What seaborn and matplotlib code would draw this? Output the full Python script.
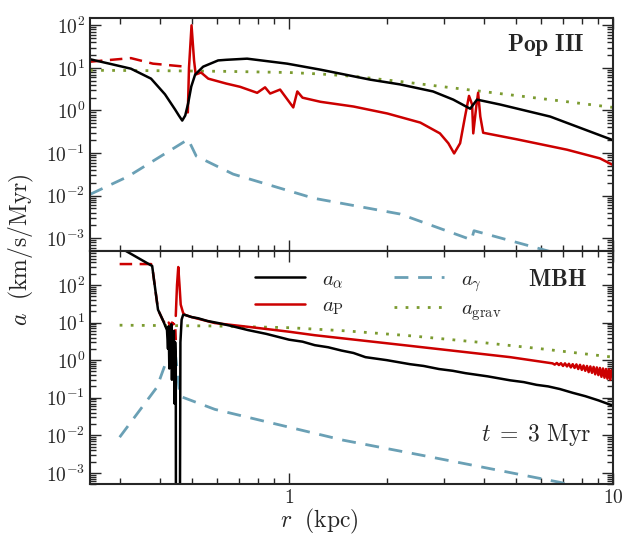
import numpy as np
import pandas as pd
import seaborn as sns
import matplotlib
matplotlib.use("Agg")
import matplotlib.pyplot as plt
from matplotlib.ticker import FixedLocator, FuncFormatter, NullFormatter, LogLocator

# ---- Pop III panel ----
pop_alpha_r = [0.243, 0.28, 0.325, 0.375, 0.414, 0.445, 0.457, 0.468, 0.478, 0.488, 0.499, 0.513, 0.543,
               0.604, 0.639, 0.742, 0.986, 1.25, 1.78, 2.2, 2.78, 3.21, 3.62, 3.80, 4.48, 6.39, 10.0]
pop_alpha_a = [16, 12.5, 9.6, 5.6, 2.4, 1.05, 0.76, 0.58, 0.76, 1.46, 3.65, 7.0, 10.7,
               15, 15.5, 16.5, 12.6, 9.1, 5.3, 4.1, 2.8, 1.8, 1.1, 1.8, 1.38, 0.72, 0.2]

pop_pneg_r = [0.243, 0.325, 0.38, 0.478, 0.486]
pop_pneg_a = [14, 17, 12.6, 10.7, 10]

pop_p_r = [0.487, 0.491, 0.500, 0.509, 0.515, 0.535, 0.563, 0.639, 0.706, 0.797, 0.843, 0.874, 0.938,
           1.03, 1.06, 1.10, 1.25, 1.58, 2.01, 2.54, 2.92, 3.10, 3.23, 3.37, 3.49, 3.59, 3.67, 3.70,
           3.78, 3.83, 3.89, 3.97, 5.05, 7.20, 9.1, 10.0]
pop_p_a = [0.9, 10, 100, 15, 7.0, 7.8, 5.6, 4.3, 3.6, 2.6, 3.5, 2.5, 3.1,
           1.18, 2.8, 2.0, 1.6, 1.24, 0.85, 0.52, 0.29, 0.17, 0.098, 0.17, 0.72, 2.2, 1.38, 0.29,
           1.24, 2.6, 0.72, 0.3, 0.21, 0.12, 0.075, 0.052]

pop_gam_r = [0.243, 0.318, 0.488, 0.517, 0.672, 1.19, 2.2, 3.54, 3.65, 3.72, 6.3, 10.0]
pop_gam_a = [0.0107, 0.028, 0.21, 0.085, 0.032, 0.0087, 0.0037, 0.001, 0.0009, 0.0015, 5e-4, 2e-4]

pop_grav_r = [0.243, 0.4, 0.64, 1.0, 1.25, 1.6, 2.2, 3.0, 3.8, 5.0, 7.0, 10.0]
pop_grav_a = [8.8, 8.6, 8.3, 7.8, 7.2, 6.3, 4.8, 3.6, 2.9, 2.25, 1.65, 1.18]

# ---- MBH panel ----
mbh_alpha_r = [0.30, 0.378, 0.383, 0.389, 0.394, 0.409, 0.420, 0.423, 0.425, 0.427, 0.429, 0.431, 0.433,
               0.435, 0.437, 0.439, 0.441, 0.443, 0.445, 0.447, 0.448, 0.459, 0.462, 0.466, 0.471,
               0.477, 0.50, 0.524, 0.56, 0.604, 0.66, 0.747, 0.85, 1.0, 1.1, 1.2, 1.32, 1.45, 1.58,
               1.72, 2.0, 2.36, 2.6, 2.9, 3.2, 3.5, 4.1, 4.81, 5.3, 5.8, 6.3, 6.85, 7.5, 8.2, 9.0, 9.8, 10.0]
mbh_alpha_a = [1000, 320, 135, 50, 22, 11, 6.3, 2, 8, 0.6, 5, 1.5, 9,
               0.3, 4, 0.9, 6, 0.07, 3, 1.0, 1e-8, 1e-8, 3, 12, 16,
               16, 14, 13, 11, 9.7, 8.2, 6.3, 5.0, 3.5, 3.1, 2.5, 2.2, 1.8, 1.55,
               1.2, 1.0, 0.78, 0.7, 0.58, 0.52, 0.45, 0.37, 0.29, 0.26, 0.22, 0.2, 0.17, 0.135, 0.11, 0.085, 0.065, 0.062]

mbh_pneg_r = [0.30, 0.375, 0.378, 0.383, 0.389, 0.394, 0.409, 0.420, 0.425, 0.430, 0.435, 0.440, 0.445, 0.447]
mbh_pneg_a = [360, 360, 320, 135, 50, 22, 11, 8, 10, 8, 10, 9, 10, 3.4]

mbh_p_r = [0.447, 0.451, 0.455, 0.459, 0.463, 0.471, 0.477, 0.50, 0.59, 0.747, 1.0, 1.2, 2.36, 4.81, 6.5,
           6.6, 6.7, 6.8, 6.9, 7.0, 7.1, 7.2, 7.3, 7.4, 7.5, 7.6, 7.7, 7.8, 7.9, 8.0, 8.1, 8.2, 8.3,
           8.4, 8.5, 8.6, 8.7, 8.8, 8.9, 9.0, 9.1, 9.2, 9.3, 9.4, 9.5, 9.6, 9.7, 9.8, 9.9, 10.0]
mbh_p_a = [15, 100, 300, 100, 30, 18, 16, 14, 9.7, 7.7, 5.7, 4.6, 2.4, 1.2, 0.82,
           0.76, 0.84, 0.74, 0.83, 0.70, 0.82, 0.68, 0.80, 0.64, 0.78, 0.62, 0.77, 0.58, 0.75, 0.55,
           0.72, 0.52, 0.70, 0.48, 0.68, 0.46, 0.66, 0.42, 0.64, 0.40, 0.62, 0.36, 0.60, 0.34, 0.58,
           0.32, 0.57, 0.30, 0.55, 0.42]

mbh_gam_r = [0.30, 0.391, 0.414, 0.447, 0.452, 0.46, 0.59, 1.47, 2.59, 6.85, 10.0]
mbh_gam_a = [0.0089, 0.19, 0.74, 1.2, 0.5, 0.11, 0.049, 0.0074, 0.0029, 5.6e-4, 2.5e-4]

mbh_grav_r = [0.30, 0.59, 1.0, 1.5, 2.4, 4.0, 6.0, 10.0]
mbh_grav_a = [8.5, 8.1, 7.3, 6.0, 4.4, 2.9, 2.0, 1.2]

labels = [r"$a_\alpha$", r"$a_\mathrm{P}$", r"$a_\gamma$", r"$a_\mathrm{grav}$"]
y_ticks = [1e-3, 1e-2, 1e-1, 1e0, 1e1, 1e2]

sns.set_style("ticks")
plt.rcParams.update({
    "mathtext.fontset": "cm",
    "font.family": ["DejaVu Serif"],
    "axes.linewidth": 1.5,
    "xtick.direction": "in", "ytick.direction": "in",
    "xtick.top": True, "ytick.right": True,
    "xtick.major.size": 8, "ytick.major.size": 8,
    "xtick.minor.size": 4, "ytick.minor.size": 4,
    "xtick.major.width": 1, "ytick.major.width": 1,
    "xtick.minor.width": 1, "ytick.minor.width": 1,
    "xtick.minor.visible": True, "ytick.minor.visible": True,
})

RED = "#cc0000"
BLUE = "#6aa0b5"
GREEN = "#7b9b30"


def line(ax, r, a, **kw):
    df = pd.DataFrame({"r": r, "a": a})
    sns.lineplot(data=df, x="r", y="a", estimator=None, sort=False, ax=ax, **kw)


fig, (ax1, ax2) = plt.subplots(2, 1, figsize=(6.27, 5.41), dpi=100, sharex=True)
fig.subplots_adjust(left=0.1435, right=0.978, top=0.967, bottom=0.105, hspace=0)

for ax, d in [(ax1, (pop_alpha_r, pop_alpha_a, pop_pneg_r, pop_pneg_a, pop_p_r, pop_p_a,
                     pop_gam_r, pop_gam_a, pop_grav_r, pop_grav_a)),
              (ax2, (mbh_alpha_r, mbh_alpha_a, mbh_pneg_r, mbh_pneg_a, mbh_p_r, mbh_p_a,
                     mbh_gam_r, mbh_gam_a, mbh_grav_r, mbh_grav_a))]:
    line(ax, d[6], d[7], color=BLUE, lw=2, linestyle=(0, (5, 3.5)), label=labels[2])
    line(ax, d[8], d[9], color=GREEN, lw=2, linestyle=(0, (1, 3)), label=labels[3])
    line(ax, d[2], d[3], color=RED, lw=1.8, linestyle=(0, (5, 3)))
    line(ax, d[4], d[5], color=RED, lw=1.8, label=labels[1])
    line(ax, d[0], d[1], color="black", lw=1.8, label=labels[0])
    ax.set_xscale("log")
    ax.set_yscale("log")
    ax.set_xlabel("")
    ax.set_ylabel("")
    ax.yaxis.set_major_locator(FixedLocator(y_ticks))
    ax.yaxis.set_minor_locator(LogLocator(base=10, subs=np.arange(2, 10), numticks=20))
    ax.yaxis.set_major_formatter(FuncFormatter(lambda v, p: r"$10^{%d}$" % int(round(np.log10(v)))))
    ax.yaxis.set_minor_formatter(NullFormatter())
    ax.tick_params(labelsize=14)
    if ax.get_legend() is not None:
        ax.get_legend().remove()

ax1.set_ylim(5e-4, 150)
ax2.set_ylim(5e-4, 800)
ax2.set_xlim(0.243, 10)
ax2.xaxis.set_major_locator(FixedLocator([1, 10]))
ax2.xaxis.set_major_formatter(FuncFormatter(lambda v, p: r"$%d$" % int(round(v))))
ax2.xaxis.set_minor_formatter(NullFormatter())
ax1.tick_params(labelbottom=False)

h, l = ax2.get_legend_handles_labels()
order = [l.index(s) for s in labels]
ax2.legend([h[i] for i in order], [l[i] for i in order], ncol=2, frameon=False,
           loc="upper left", bbox_to_anchor=(0.28, 1.0), fontsize=15,
           handlelength=2.4, columnspacing=2.4, labelspacing=0.3)

ax1.text(0.945, 0.885, r"$\mathbf{Pop\ III}$", transform=ax1.transAxes, ha="right", va="center", fontsize=17)
ax2.text(0.95, 0.88, r"$\mathbf{MBH}$", transform=ax2.transAxes, ha="right", va="center", fontsize=17)
ax2.text(0.958, 0.21, r"$t\;=\;3\ \mathrm{Myr}$", transform=ax2.transAxes, ha="right", va="center", fontsize=17)

fig.text(0.035, 0.538, r"$a\ \ (\mathrm{km/s/Myr})$", rotation=90, ha="center", va="center", fontsize=17)
fig.text(0.51, 0.036, r"$r\ \ (\mathrm{kpc})$", ha="center", va="center", fontsize=17)

fig.savefig("out.png", dpi=100)
